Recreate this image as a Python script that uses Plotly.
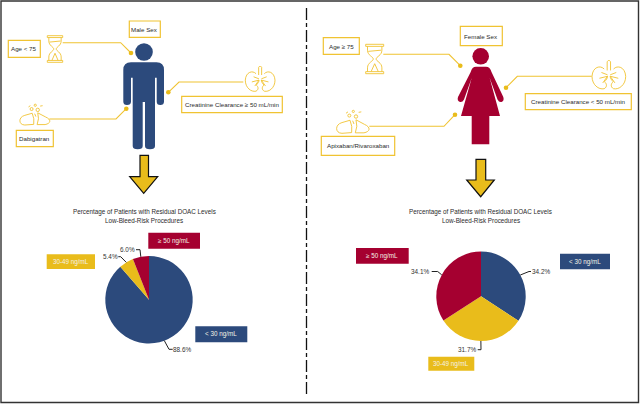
import plotly.graph_objects as go
import math, re

categories = ["< 30 ng/mL", "30-49 ng/mL", "≥ 50 ng/mL"]
male_values = [88.6, 5.4, 6.0]
female_values = [34.2, 31.7, 34.1]
male_labels = ["88.6%", "5.4%", "6.0%"]
female_labels = ["34.2%", "31.7%", "34.1%"]
title_lines = ["Percentage of Patients with Residual DOAC Levels", "Low-Bleed-Risk Procedures"]

NAVY = "#2C4A7C"
GOLD = "#E9BC1B"
RED = "#A50030"
OUT = "#F0C332"
FONT = "Liberation Sans, Arial, sans-serif"
W, H = 640, 404
colors = [NAVY, GOLD, RED]

shapes, annos = [], []


def tf(path, x0, y0, x1, y1, mirror=False):
    toks = re.findall(r"[A-Za-z]|-?[\d.]+", path)
    out, i = [], 0
    for t in toks:
        if t.isalpha():
            out.append(t)
            i = 0
        else:
            v = float(t)
            if i % 2 == 0:
                v = 1 - v if mirror else v
                out.append(f"{x0 + v * (x1 - x0):.2f}")
            else:
                out.append(f"{y0 + v * (y1 - y0):.2f}")
            i += 1
    return " ".join(out)


def path(d, fill=None, line=None, width=1.0):
    shapes.append(dict(type="path", xref="x", yref="y", path=d,
                       fillcolor=fill or "rgba(0,0,0,0)",
                       line=dict(color=line or "rgba(0,0,0,0)", width=width if line else 0)))


def circle(cx, cy, r, fill=None, line=None, width=1.0):
    shapes.append(dict(type="circle", xref="x", yref="y", x0=cx - r, x1=cx + r, y0=cy - r, y1=cy + r,
                       fillcolor=fill or "rgba(0,0,0,0)",
                       line=dict(color=line or "rgba(0,0,0,0)", width=width if line else 0)))


def rect(x0, y0, x1, y1, fill, line=None, width=1.2):
    shapes.append(dict(type="rect", xref="x", yref="y", x0=x0, x1=x1, y0=y0, y1=y1, fillcolor=fill,
                       line=dict(color=line or "rgba(0,0,0,0)", width=width if line else 0)))


def text(x, y, s, size=6.2, color="#2b2b2b", anchor="center"):
    annos.append(dict(x=x, y=y, xref="x", yref="y", text=s, showarrow=False, xanchor=anchor, yanchor="middle",
                      align="center", font=dict(family=FONT, size=size, color=color), borderpad=0))


def box(x0, y0, x1, y1, s):
    rect(x0, y0, x1, y1, "white", OUT, 1.2)
    text((x0 + x1) / 2, (y0 + y1) / 2, s)


def tag(x0, y0, x1, y1, s, fill):
    rect(x0, y0, x1, y1, fill)
    text((x0 + x1) / 2, (y0 + y1) / 2, s, size=6.3, color="#F4F1E6")


def leader(p0, p1, p2):
    path(f"M {p0[0]} {p0[1]} L {p1[0]} {p1[1]} L {p2[0]} {p2[1]}", line=OUT, width=1.1)
    circle(p2[0], p2[1], 2.3, fill=GOLD)


def hourglass(x0, y0, x1, y1):
    b = lambda d: path(tf(d, x0, y0, x1, y1), line=OUT, width=0.9)
    b("M 0 0 L 1 0 L 1 .07 L 0 .07 Z")
    b("M 0 .93 L 1 .93 L 1 1 L 0 1 Z")
    b("M .1 .07 L .1 .2 C .1 .38 .42 .42 .42 .5 C .42 .58 .1 .62 .1 .8 L .1 .93")
    b("M .9 .07 L .9 .2 C .9 .38 .58 .42 .58 .5 C .58 .58 .9 .62 .9 .8 L .9 .93")
    b("M .3 .93 L .5 .66 L .7 .93")
    b("M .14 .24 L .86 .2")


def kidneys(x0, y0, x1, y1):
    for m in (False, True):
        b = lambda d: path(tf(d, x0, y0, x1, y1, m), line=OUT, width=0.9)
        b("M .36 .3 C .25 .16 .02 .22 0 .55 C 0 .85 .2 1.02 .36 .98 C .46 .92 .44 .8 .37 .74 "
          "C .42 .68 .46 .62 .46 .55")
        b("M .45 .35 L .45 .05 Q .5 -.03 .5 .02")
        b("M .46 .5 L .28 .42 M .46 .55 L .22 .62 M .46 .55 L .32 .78")


def pills(x0, y0, x1, y1):
    b = lambda d: path(tf(d, x0, y0, x1, y1), line=OUT, width=0.9)
    b("M .42 .44 L .18 .54 C -.04 .62 -.03 1.0 .18 1 L .47 .97 Q .5 .7 .42 .44 Z")
    b("M .6 .42 L .86 .62 C 1.05 .74 1.03 .93 .84 .98 L .58 .98 Q .66 .7 .6 .42 Z")
    b("M .3 .14 L .36 .08 M .68 .1 L .76 .08 M .5 .46 L .54 .6")
    for ux, uy, r in ((.4, .24, 1.5), (.52, .06, 1.1), (.6, .28, 1.7)):
        circle(x0 + ux * (x1 - x0), y0 + uy * (y1 - y0), r, line=OUT, width=0.9)


def pie_trace(values, cx, cy, r):
    return go.Pie(values=values, labels=categories, sort=False, direction="clockwise", rotation=0,
                  marker=dict(colors=colors, line=dict(width=0)), textinfo="none", showlegend=False,
                  hoverinfo="label+percent",
                  domain=dict(x=[(cx - r) / W, (cx + r) / W], y=[1 - (cy + r) / H, 1 - (cy - r) / H]))


def pie_notes(values, labels, cx, cy, r, elbows):
    total, acc = sum(values), 0
    for v, lab, (mid, end, tx) in zip(values, labels, elbows):
        a = (acc + v / 2) / total * 2 * math.pi
        acc += v
        sx, sy = cx + r * math.sin(a), cy - r * math.cos(a)
        path(f"M {sx:.2f} {sy:.2f} L {mid[0]} {mid[1]} L {end[0]} {end[1]}", line="#222222", width=1.0)
        text(tx, end[1], lab, size=6.4, color="#333333")


# frame + divider
rect(1, 1, 638.5, 402.5, "rgba(0,0,0,0)", "#333333", 1.4)
shapes.append(dict(type="line", xref="x", yref="y", x0=306.5, x1=306.5, y0=8, y1=397,
                   line=dict(color="#111111", width=1.3, dash="12px,3px,4px,3px")))

# male figure
circle(144, 52, 8.8, fill=NAVY)
path("M 123.3 70 Q 123.3 62.3 131 62.3 L 156.5 62.3 Q 164 62.3 164 70 L 164 101.5 Q 164 105 160.3 105 "
     "Q 156.7 105 156.7 101.5 L 156.7 77.7 L 155 77.7 L 155 146 Q 155 149.3 150 149.3 Q 145 149.3 145 146 "
     "L 145 102 L 142.7 102 L 142.7 146 Q 142.7 149.3 137.7 149.3 Q 132.7 149.3 132.7 146 L 132.7 77.7 "
     "L 131 77.7 L 131 101.5 Q 131 105 127 105 Q 123.3 105 123.3 101.5 Z", fill=NAVY)

# female figure
circle(480.7, 56.3, 8.3, fill=RED)
path("M 470.7 72 Q 472 66.7 476 66.7 L 486 66.7 Q 490 66.7 491.5 72 L 503.3 97 Q 504.5 101 501.5 102 "
     "Q 499 102.5 497.5 99.5 L 489.7 78 L 500 116 L 489.3 116 L 489.3 144.3 L 471.7 144.3 L 471.7 116 "
     "L 461 116 L 471.7 78 L 464 99.5 Q 462.5 102.5 460 102 Q 456.8 101 458 97 Z", fill=RED)

# arrows
path("M 140 155.3 L 148.5 155.3 L 148.5 176.7 L 157.7 176.7 L 143.7 193.3 L 129.7 176.7 L 140 176.7 Z",
     fill=GOLD, line="#111111", width=1.2)
path("M 476 159.3 L 485.7 159.3 L 485.7 180 L 494.3 180 L 480.7 196.7 L 466.7 180 L 476 180 Z",
     fill=GOLD, line="#111111", width=1.2)

# leaders
leader((62.7, 42.7), (120.7, 42.7), (131, 53))
leader((243.3, 82), (179, 82), (168.3, 92.3))
leader((49.3, 119), (116, 119), (126.3, 108.7))
leader((383.3, 54.3), (449, 54.3), (460.3, 65.7))
leader((591.7, 76.3), (517.3, 76.3), (506, 87.7))
leader((369.3, 126.3), (444, 126.3), (455, 114.7))

# icons
hourglass(47.3, 35.7, 62.7, 62.3)
hourglass(365.7, 44.3, 383.7, 73.7)
kidneys(245.3, 66, 275, 91.7)
kidneys(592, 60.3, 625.7, 89.3)
pills(19.3, 104, 50, 125)
pills(336, 110, 369.3, 133.3)

# label boxes
box(129.3, 21, 160.3, 37.3, "Male Sex")
box(8.3, 40.3, 40.3, 57.3, "Age &lt; 75")
box(181.7, 96.3, 282.3, 112.7, "Creatinine Clearance ≥ 50 mL/min")
box(16.3, 130.3, 53.3, 146.7, "Dabigatran")
box(460.3, 26.3, 502.3, 45.7, "Female Sex")
box(323.3, 37.7, 359.3, 54.3, "Age ≥ 75")
box(525.3, 93.7, 631.3, 109.7, "Creatinine Clearance &lt; 50 mL/min")
box(321.3, 136.3, 394.7, 155.3, "Apixaban/Rivaroxaban")

# titles
for cx in (144, 480.7):
    text(cx, 212.4, title_lines[0], size=6.3)
    text(cx, 220.5, title_lines[1], size=6.3)

# category tags
tag(195.3, 326.3, 247.3, 342.3, categories[0].replace("<", "&lt;"), NAVY)
tag(46.7, 254.3, 95, 269, categories[1], GOLD)
tag(148.3, 232.7, 200, 248.7, categories[2], RED)
tag(560, 253.7, 610, 269.3, categories[0].replace("<", "&lt;"), NAVY)
tag(428.3, 356.7, 474.3, 370.7, categories[1], GOLD)
tag(356, 248, 408.7, 263.7, categories[2], RED)

# pie callouts
pie_notes(male_values, male_labels, 149, 299.7, 43.7, [
    ((169, 349.3), (172.7, 349.3), 181.7),
    ((120.7, 256.7), (118.3, 256.7), 110.3),
    ((140, 249.7), (136, 249.7), 127.3),
])
pie_notes(female_values, female_labels, 481, 296.3, 44.7, [
    ((529, 271.5), (531, 271.5), 541.3),
    ((481, 349.7), (477.7, 349.7), 466.7),
    ((437.7, 271.5), (431.7, 271.5), 420.3),
])

anchor = go.Scatter(x=[0, W], y=[0, H], mode="none", showlegend=False, hoverinfo="skip")

fig = go.Figure(data=[anchor, pie_trace(male_values, 149, 299.7, 43.7), pie_trace(female_values, 481, 296.3, 44.7)])
fig.update_layout(
    width=W, height=H, margin=dict(l=0, r=0, t=0, b=0), paper_bgcolor="white", plot_bgcolor="rgba(0,0,0,0)",
    xaxis=dict(range=[0, W], visible=False, fixedrange=True),
    yaxis=dict(range=[H, 0], visible=False, fixedrange=True),
    shapes=shapes, annotations=annos, font=dict(family=FONT),
)
fig.write_html("out.html", post_script="document.body.style.margin='0';document.body.style.overflow='hidden';",
               config=dict(displayModeBar=False))
